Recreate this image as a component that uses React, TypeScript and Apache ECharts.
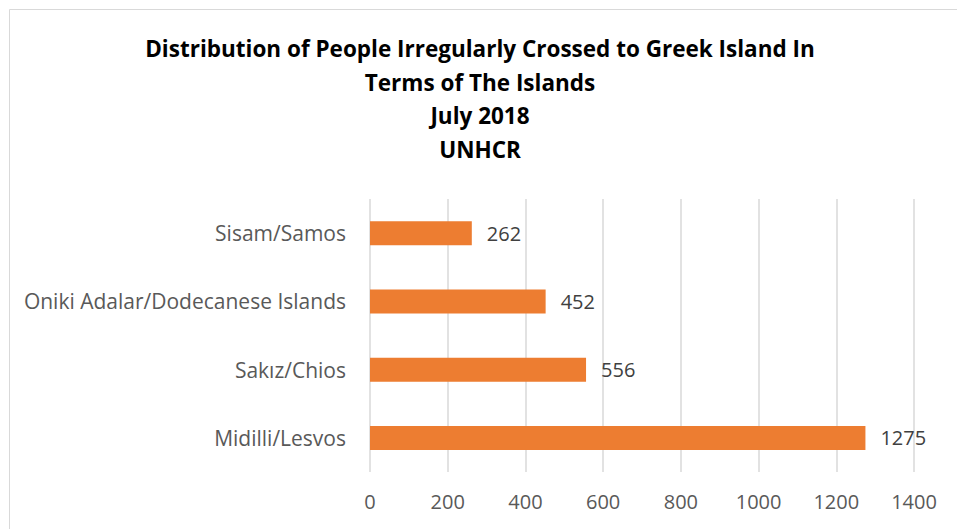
import React, { useEffect, useRef } from "react";
import * as echarts from "echarts";

const categories = ["Midilli/Lesvos", "Sakız/Chios", "Oniki Adalar/Dodecanese Islands", "Sisam/Samos"];
const values = [1275, 556, 452, 262];
const titleLines = [
  "Distribution of People Irregularly Crossed to Greek Island In",
  "Terms of The Islands",
  "July 2018",
  "UNHCR",
];

const FONT = "Open Sans";

export default function App() {
  const ref = useRef<HTMLDivElement>(null);
  useEffect(() => {
    if (!ref.current) return;
    const chart = echarts.init(ref.current, undefined, { renderer: "svg" });
    chart.setOption({
      animation: false,
      backgroundColor: "#ffffff",
      title: {
        text: titleLines.join("\n"),
        left: 475,
        top: 27,
        textAlign: "center",
        textStyle: {
          fontFamily: FONT,
          fontWeight: "bold",
          fontSize: 22.5,
          lineHeight: 33.5,
          color: "#000000",
        },
      },
      graphic: [
        {
          type: "rect",
          shape: { x: 9.5, y: 9.5, width: 1000, height: 1000 },
          style: { fill: "none", stroke: "#d9d9d9", lineWidth: 1 },
          silent: true,
        },
      ],
      grid: { left: 370, right: 43, top: 199, bottom: 57, containLabel: false },
      xAxis: {
        type: "value",
        min: 0,
        max: 1400,
        interval: 200,
        axisLine: { show: false },
        axisTick: { show: false },
        splitLine: { show: true, lineStyle: { color: "#d9d9d9", width: 1.5 } },
        axisLabel: {
          color: "#595959",
          fontFamily: FONT,
          fontSize: 20,
          margin: 19,
          formatter: (v: number) => String(v),
        },
      },
      yAxis: {
        type: "category",
        data: categories,
        axisLine: { show: false },
        axisTick: { show: false },
        axisLabel: { color: "#595959", fontFamily: FONT, fontSize: 21, margin: 24 },
      },
      series: [
        {
          type: "bar",
          data: values,
          barWidth: 24,
          itemStyle: { color: "#ed7d31" },
          label: {
            show: true,
            position: "right",
            distance: 15,
            color: "#404040",
            fontFamily: FONT,
            fontSize: 20,
          },
        },
      ],
    });
    return () => chart.dispose();
  }, []);
  return (
    <div
      ref={ref}
      style={{ position: "fixed", left: 0, top: 0, width: 957, height: 529 }}
    />
  );
}
